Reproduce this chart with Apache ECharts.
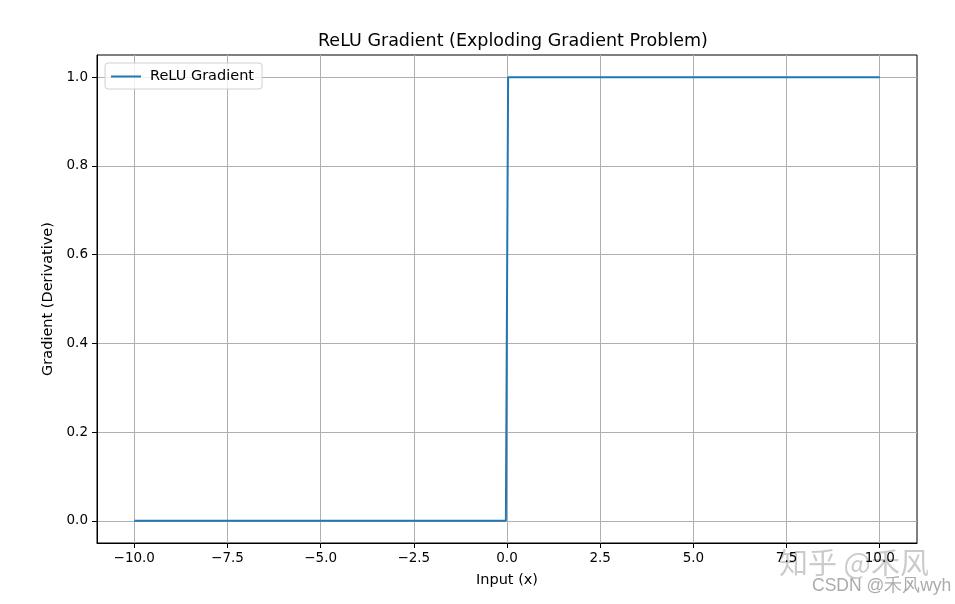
<!DOCTYPE html>
<html><head><meta charset="utf-8">
<script src="https://cdn.jsdelivr.net/npm/echarts@6/dist/echarts.min.js"></script>
<style>html,body{margin:0;padding:0;background:#fff}#c{width:955px;height:604px}</style>
</head><body><div id="c"></div>
<script>
var xValues = [-10, -0.03, 0.03, 10];
var gradValues = [0, 0, 1, 1];
var xTicks = [-10, -7.5, -5, -2.5, 0, 2.5, 5, 7.5, 10];
var yTicks = [0, 0.2, 0.4, 0.6, 0.8, 1.0];
var titleText = 'ReLU Gradient (Exploding Gradient Problem)';
var seriesName = 'ReLU Gradient';

var font = 'DejaVu Sans';
var chart = echarts.init(document.getElementById('c'), null, {renderer: 'canvas'});
function fmt(v, d) { var s = v.toFixed(d); return s.replace('-', '\u2212'); }
chart.setOption({
  animation: false,
  title: {text: titleText, left: 313, top: 27, textStyle: {fontFamily: font, fontSize: 17.5, fontWeight: 'normal', color: '#000'}},
  legend: {
    data: [seriesName], left: 105, top: 63, orient: 'vertical',
    backgroundColor: 'rgba(255,255,255,0.8)', borderColor: '#d0d0d0', borderWidth: 1, borderRadius: 3,
    padding: [6, 8, 5, 6], itemWidth: 30, itemHeight: 2, itemGap: 0,
    icon: 'rect',
    textStyle: {fontFamily: font, fontSize: 14.5, color: '#000', padding: [0, 0, 0, 4]}
  },
  grid: {left: 97, right: 38, top: 55, bottom: 61, show: true, borderColor: '#000', borderWidth: 1, backgroundColor: 'transparent'},
  xAxis: {
    type: 'value', min: -11, max: 11,
    name: 'Input (x)', nameLocation: 'middle', nameGap: 30,
    nameTextStyle: {fontFamily: font, fontSize: 14.5, color: '#000'},
    axisLine: {show: true, onZero: false, lineStyle: {color: '#000'}},
    axisTick: {show: true, length: 5, inside: false, customValues: xTicks, lineStyle: {color: '#000'}},
    axisLabel: {customValues: xTicks, fontFamily: font, fontSize: 13.5, color: '#000', margin: 8, formatter: function(v){return fmt(v, 1);}},
    splitLine: {show: true, customValues: xTicks, lineStyle: {color: '#b0b0b0', width: 1}}
  },
  yAxis: {
    type: 'value', min: -0.05, max: 1.05,
    name: 'Gradient (Derivative)', nameLocation: 'middle', nameGap: 40, nameRotate: 90,
    nameTextStyle: {fontFamily: font, fontSize: 14.5, color: '#000'},
    axisLine: {show: true, onZero: false, lineStyle: {color: '#000'}},
    axisTick: {show: true, length: 5, customValues: yTicks, lineStyle: {color: '#000'}},
    axisLabel: {customValues: yTicks, fontFamily: font, fontSize: 13.5, color: '#000', margin: 9, formatter: function(v){return fmt(v, 1);}},
    splitLine: {show: true, customValues: yTicks, lineStyle: {color: '#b0b0b0', width: 1}}
  },
  series: [{
    name: seriesName, type: 'line', showSymbol: false, symbol: 'none',
    data: xValues.map(function(x, i){ return [x, gradValues[i]]; }),
    lineStyle: {color: '#1f77b4', width: 2}, itemStyle: {color: '#1f77b4'}
  }],
  graphic: [
    {type: 'text', left: 779, top: 548, style: {text: '知乎 @禾风', fontFamily: 'Noto Sans CJK SC', fontSize: 29, fill: 'rgba(140,140,140,0.45)'}},
    {type: 'text', left: 812, top: 577, style: {text: 'CSDN @禾风wyh', fontFamily: 'Liberation Sans', fontSize: 17.5, fill: 'rgba(150,150,150,0.8)'}}
  ]
});
</script></body></html>
